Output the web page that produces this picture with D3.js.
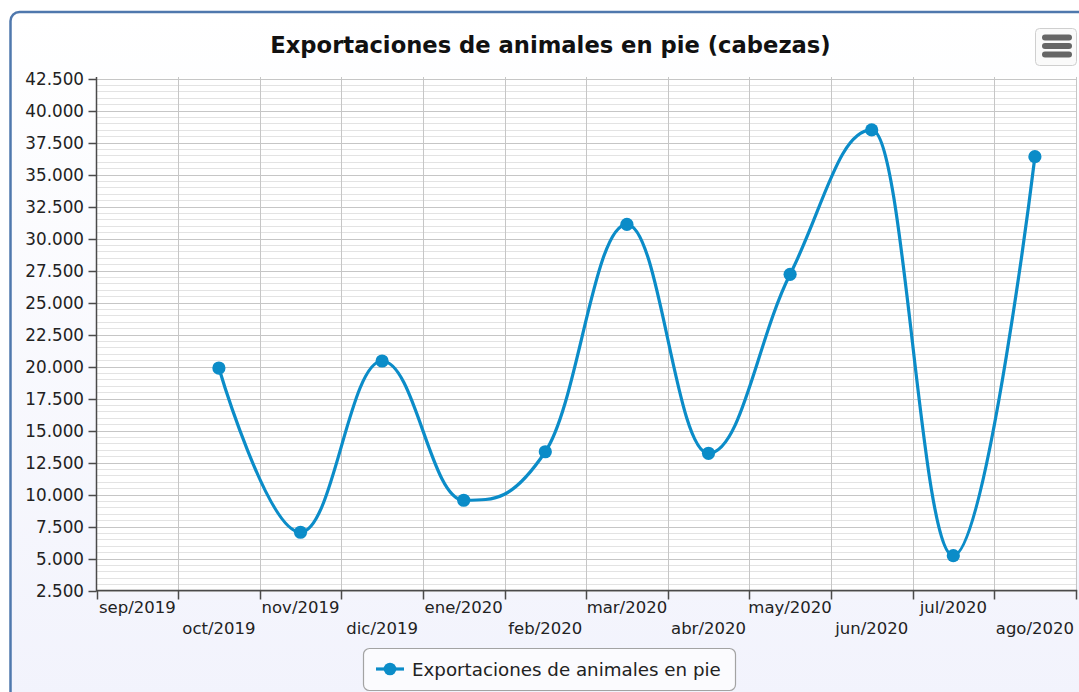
<!DOCTYPE html>
<html><head><meta charset="utf-8">
<script src="https://cdn.jsdelivr.net/npm/d3@7/dist/d3.min.js"></script>
<style>html,body{margin:0;padding:0;overflow:hidden;background:#fff}</style>
</head><body>
<svg id="chart" width="1079" height="692"></svg>
<script>
const chartTitle = "Exportaciones de animales en pie (cabezas)";
const seriesName = "Exportaciones de animales en pie";
const categories = ["sep/2019","oct/2019","nov/2019","dic/2019","ene/2020","feb/2020","mar/2020","abr/2020","may/2020","jun/2020","jul/2020","ago/2020"];
const values = [null, 19880, 7050, 20430, 9550, 13340, 31110, 13220, 27200, 38480, 5220, 36390];
const yMajorTicks = [2500,5000,7500,10000,12500,15000,17500,20000,22500,25000,27500,30000,32500,35000,37500,40000,42500];
const yMinorStep = 500;

(function(){
const svg = d3.select("#chart");
const W = 1079, H = 692;
const fontFamily = "'DejaVu Sans', Verdana, sans-serif";
const lineColor = "#0b8cc8";

const defs = svg.append("defs");
const grad = defs.append("linearGradient").attr("id","bg").attr("x1",0).attr("y1",0).attr("x2",0).attr("y2",1);
grad.append("stop").attr("offset","0%").attr("stop-color","#ffffff");
grad.append("stop").attr("offset","100%").attr("stop-color","#f1f2fc");
svg.append("rect").attr("x",0).attr("y",0).attr("width",W).attr("height",H).attr("fill","#ffffff");
svg.append("rect").attr("x",10.5).attr("y",12).attr("width",1120).attr("height",740).attr("rx",9)
  .attr("fill","url(#bg)").attr("stroke","#4f78ad").attr("stroke-width",2.5);

const pLeft = 96.5, pRight = 1075.7, pTop = 77, pBottom = 590.5;
const x = d3.scaleBand().domain(categories).range([pLeft, pRight]).padding(0);
const y = d3.scaleLinear().domain([2500, 42500]).range([pBottom, 78.5]);

svg.append("rect").attr("x",pLeft).attr("y",pTop).attr("width",pRight-pLeft).attr("height",pBottom-pTop).attr("fill","#ffffff");

const grid = svg.append("g");
const minor = d3.range(2500, 42500 + 1, yMinorStep).filter(v => !yMajorTicks.includes(v));
grid.selectAll("line.minor").data(minor).join("line")
  .attr("x1",pLeft).attr("x2",pRight+1).attr("y1",d=>Math.round(y(d))+0.5).attr("y2",d=>Math.round(y(d))+0.5)
  .attr("stroke","#e3e3e3").attr("stroke-width",1);
grid.selectAll("line.major").data(yMajorTicks).join("line")
  .attr("x1",pLeft).attr("x2",pRight+1).attr("y1",d=>Math.round(y(d))+0.5).attr("y2",d=>Math.round(y(d))+0.5)
  .attr("stroke","#c6c6c6").attr("stroke-width",1);
const bounds = categories.map(c => x(c)).concat([pRight]);
grid.selectAll("line.v").data(bounds.slice(1)).join("line")
  .attr("x1",d=>Math.round(d)+0.5).attr("x2",d=>Math.round(d)+0.5).attr("y1",pTop).attr("y2",pBottom)
  .attr("stroke","#c6c6c6").attr("stroke-width",1);

const fmt = d3.formatLocale({decimal:",", thousands:".", grouping:[3], currency:["",""]}).format(",.0f");
const axisColor = "#4a4a4a";
svg.append("line").attr("x1",pLeft).attr("x2",pLeft).attr("y1",pTop).attr("y2",pBottom+1)
  .attr("stroke",axisColor).attr("stroke-width",1.5);
svg.selectAll("line.ytick").data(yMajorTicks).join("line")
  .attr("x1",pLeft-8).attr("x2",pLeft).attr("y1",d=>Math.round(y(d))+0.5).attr("y2",d=>Math.round(y(d))+0.5)
  .attr("stroke",axisColor).attr("stroke-width",1.5);
svg.selectAll("text.ylab").data(yMajorTicks).join("text")
  .attr("x",84).attr("y",d=>y(d)+6.5).attr("text-anchor","end")
  .attr("font-family",fontFamily).attr("font-size",16.8).attr("fill","#222")
  .text(d=>fmt(d));

svg.append("line").attr("x1",pLeft).attr("x2",pRight+1.5).attr("y1",pBottom).attr("y2",pBottom)
  .attr("stroke",axisColor).attr("stroke-width",1.5);
svg.selectAll("line.xtick").data(bounds).join("line")
  .attr("x1",d=>Math.round(d)+0.5).attr("x2",d=>Math.round(d)+0.5).attr("y1",pBottom).attr("y2",pBottom+9)
  .attr("stroke",axisColor).attr("stroke-width",1.5);
svg.selectAll("text.xlab").data(categories).join("text")
  .attr("x",d=>x(d)+x.bandwidth()/2).attr("y",(d,i)=> i%2===0 ? 613 : 634).attr("text-anchor","middle")
  .attr("font-family",fontFamily).attr("font-size",16.5).attr("fill","#222")
  .text(d=>d);

function curveSpline(context){
  let pts;
  return {
    areaStart(){}, areaEnd(){},
    lineStart(){ pts = []; },
    point(px,py){ pts.push({x:+px,y:+py}); },
    lineEnd(){
      const s = 1.5, den = s + 1;
      pts.forEach((p,i)=>{
        const last = pts[i-1], next = pts[i+1];
        if (last && next){
          let lcx = (s*p.x + last.x)/den, lcy = (s*p.y + last.y)/den;
          let rcx = (s*p.x + next.x)/den, rcy = (s*p.y + next.y)/den;
          if (rcx !== lcx){
            const corr = ((rcy - lcy)*(rcx - p.x))/(rcx - lcx) + p.y - rcy;
            lcy += corr; rcy += corr;
          }
          if (lcy > last.y && lcy > p.y){ lcy = Math.max(last.y,p.y); rcy = 2*p.y - lcy; }
          else if (lcy < last.y && lcy < p.y){ lcy = Math.min(last.y,p.y); rcy = 2*p.y - lcy; }
          if (rcy > next.y && rcy > p.y){ rcy = Math.max(next.y,p.y); lcy = 2*p.y - rcy; }
          else if (rcy < next.y && rcy < p.y){ rcy = Math.min(next.y,p.y); lcy = 2*p.y - rcy; }
          p.lcx=lcx; p.lcy=lcy; p.rcx=rcx; p.rcy=rcy;
        }
      });
      pts.forEach((p,i)=>{
        if (i===0){ context.moveTo(p.x,p.y); return; }
        const last = pts[i-1];
        context.bezierCurveTo(
          last.rcx!==undefined?last.rcx:last.x, last.rcy!==undefined?last.rcy:last.y,
          p.lcx!==undefined?p.lcx:p.x, p.lcy!==undefined?p.lcy:p.y, p.x, p.y);
      });
    }
  };
}

const data = categories.map((c,i)=>({c, v: values[i]}));
const line = d3.line().defined(d=>d.v!=null)
  .x(d=>x(d.c)+x.bandwidth()/2).y(d=>y(d.v)).curve(curveSpline);
svg.append("path").datum(data).attr("d",line).attr("fill","none")
  .attr("stroke",lineColor).attr("stroke-width",3.2).attr("stroke-linejoin","round").attr("stroke-linecap","round");
svg.selectAll("circle.pt").data(data.filter(d=>d.v!=null)).join("circle")
  .attr("cx",d=>x(d.c)+x.bandwidth()/2).attr("cy",d=>y(d.v)).attr("r",6.6).attr("fill",lineColor);

const t = svg.append("text").attr("x",550.5).attr("y",53).attr("text-anchor","middle")
  .attr("font-family",fontFamily).attr("font-weight","bold").attr("font-size",22).attr("fill","#111")
  .text(chartTitle);
const tw = t.node().getComputedTextLength();
t.attr("font-size", 22*561/tw);

svg.append("rect").attr("x",1035.5).attr("y",28.5).attr("width",41).attr("height",37).attr("rx",4)
  .attr("fill","#fafafa").attr("stroke","#cfcfcf").attr("stroke-width",1);
svg.selectAll("rect.bar").data([0,1,2]).join("rect")
  .attr("x",1042).attr("y",d=>34.5+d*8.5).attr("width",30).attr("height",6).attr("rx",3)
  .attr("fill","#666");

svg.append("rect").attr("x",363.5).attr("y",648.5).attr("width",372).attr("height",42).attr("rx",6)
  .attr("fill","#fbfbfe").attr("stroke","#a3a3a3").attr("stroke-width",1.2);
svg.append("line").attr("x1",376).attr("x2",404).attr("y1",669).attr("y2",669)
  .attr("stroke",lineColor).attr("stroke-width",3.2);
svg.append("circle").attr("cx",390).attr("cy",669).attr("r",6.3).attr("fill",lineColor);
const lt = svg.append("text").attr("x",412).attr("y",675.5)
  .attr("font-family",fontFamily).attr("font-size",16).attr("fill","#222").text(seriesName);
const lw = lt.node().getComputedTextLength();
lt.attr("font-size", 16*309/lw);
})();
</script>
</body></html>
